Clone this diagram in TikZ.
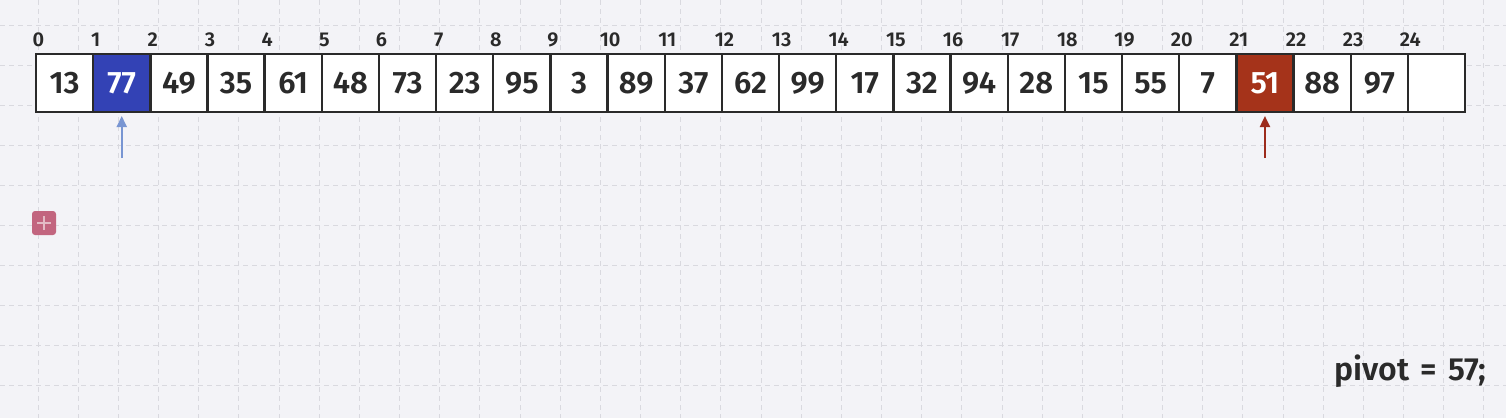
\documentclass[tikz,border=0pt]{standalone}
\usepackage{fontspec}
\setmainfont{Fira Sans}[BoldFont={Fira Sans SemiBold}]
\usetikzlibrary{arrows.meta}
\definecolor{bg}{HTML}{F3F3F7}
\definecolor{gridc}{HTML}{D9D9DF}
\definecolor{ink}{HTML}{2A2A2A}
\definecolor{blueC}{HTML}{3342B5}
\definecolor{redC}{HTML}{A5331A}
\definecolor{blueA}{HTML}{7895D2}
\definecolor{redA}{HTML}{9C2B1C}
\definecolor{pinkC}{HTML}{C2657F}
\tikzset{
  gridline/.style={draw=gridc, line width=1pt, dash pattern=on 5pt off 4pt},
  cell/.style={draw=ink, line width=2.4pt, fill=white, text=ink, minimum width=57.16pt, minimum height=58pt, inner sep=0pt, outer sep=0pt, font=\bfseries\fontsize{31}{36}\selectfont},
  bluecell/.style={cell, fill=blueC, text=white},
  redcell/.style={cell, fill=redC, text=white},
  idx/.style={text=ink, inner sep=0pt, font=\bfseries\fontsize{20}{24}\selectfont},
  ptr/.style={line width=2pt, -{Triangle[length=11pt,width=10pt]}, shorten >=4pt},
}
\begin{document}
\begin{tikzpicture}[x=1pt,y=-1pt]
\useasboundingbox (0,0) rectangle (1506,418);
\fill[bg] (0,0) rectangle (1506,418);
\foreach \k in {0,...,38} \draw[gridline] ({-2+40.16*\k},0) -- ({-2+40.16*\k},418);
\foreach \k in {0,...,9} \draw[gridline] (0,{25+40*\k}) -- (1506,{25+40*\k});
\foreach \v/\s [count=\i from 0] in {13/cell,77/bluecell,49/cell,35/cell,61/cell,48/cell,73/cell,23/cell,95/cell,3/cell,89/cell,37/cell,62/cell,99/cell,17/cell,32/cell,94/cell,28/cell,15/cell,55/cell,7/cell,51/redcell,88/cell,97/cell,{}/cell}{
  \node[\s] (c\i) at ({36+57.16*(\i+0.5)},83) {\v};
  \node[idx] (i\i) at ({36+57.16*\i+2.5},40) {\i};
}
\coordinate (ba) at ([yshift=-46pt]c1.south);
\coordinate (ra) at ([yshift=-46pt]c21.south);
\draw[ptr, blueA] (ba) -- (c1.south);
\draw[ptr, redA] (ra) -- (c21.south);
\node[fill=pinkC, rounded corners=3pt, minimum size=24pt, inner sep=0pt] (add) at (44,223) {};
\draw[white!55!pinkC, line width=1.3pt] ([xshift=-7pt]add.center) -- ([xshift=7pt]add.center);
\draw[white!55!pinkC, line width=1.3pt] ([yshift=-7pt]add.center) -- ([yshift=7pt]add.center);
\node[anchor=base east, text=ink, inner sep=0pt, font=\bfseries\fontsize{32}{38}\selectfont] (pv) at (1486,380) {pivot\hspace{0.35em}=\hspace{0.35em}57;};
\end{tikzpicture}
\end{document}
